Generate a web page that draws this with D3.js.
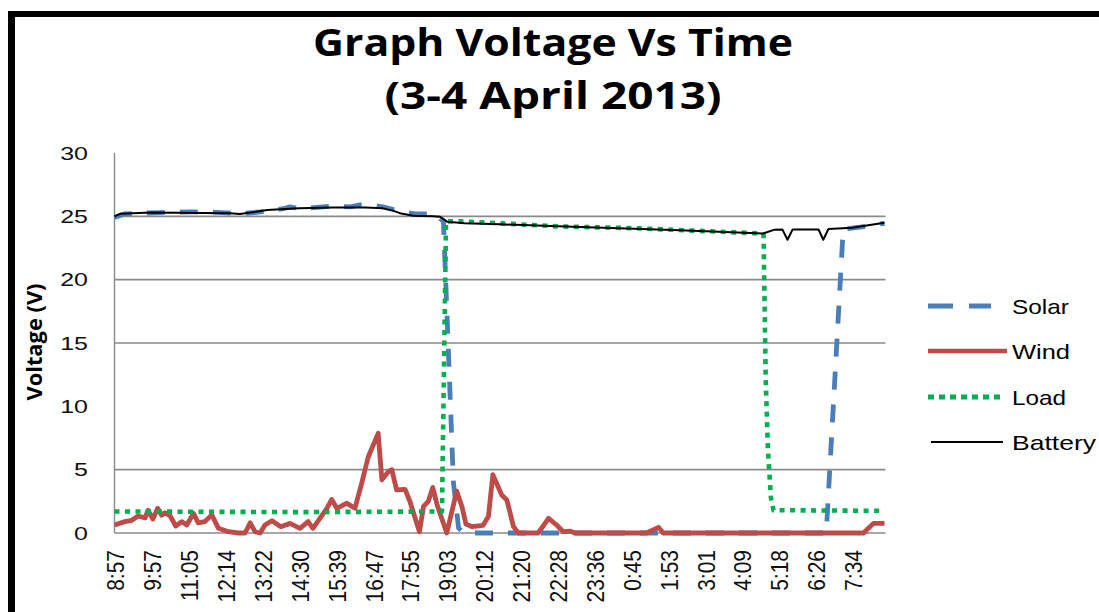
<!DOCTYPE html>
<html><head><meta charset="utf-8">
<script src="https://cdn.jsdelivr.net/npm/d3@7"></script>
<style>body{margin:0;background:#fff} svg{display:block}</style>
</head><body><svg id="c" width="1099" height="612"></svg>
<script>
// ---- data (x in label-interval units: 0 = 8:57, 1 = 9:57, ...) ----
const timeLabels = ["8:57","9:57","11:05","12:14","13:22","14:30","15:39","16:47","17:55","19:03","20:12","21:20","22:28","23:36","0:45","1:53","3:01","4:09","5:18","6:26","7:34"];
const yTicks = [0,5,10,15,20,25,30];
const gridValues = [5,15,20,25];
const seriesNames = ["Solar","Wind","Load","Battery"];

const solarT = [0,0.28,1.23,2.05,2.59,3.40,3.95,4.57,4.76,5.03,5.84,6.39,6.66,7.06,7.28,7.74,8.15,8.69,8.92,9.19,9.33,9.47,19.30,19.76,20.22,20.88];
const solarV = [24.9,25.2,25.3,25.35,25.35,25.2,25.35,25.6,25.75,25.6,25.8,25.75,25.9,25.85,25.75,25.4,25.2,25.2,24.6,4.0,0.4,0,0,24.0,24.15,24.45];

const windT = [0,0.28,0.47,0.64,0.83,0.91,1.04,1.17,1.28,1.37,1.51,1.66,1.82,1.96,2.14,2.27,2.45,2.64,2.82,3.09,3.36,3.54,3.68,3.81,3.95,4.08,4.27,4.51,4.76,5.03,5.25,5.38,5.57,5.76,5.89,6.03,6.30,6.52,6.70,6.88,7.15,7.25,7.43,7.52,7.65,7.88,8.01,8.15,8.27,8.38,8.51,8.63,8.75,9.01,9.28,9.42,9.53,9.70,9.99,10.14,10.26,10.50,10.64,10.82,10.95,11.49,11.77,11.99,12.17,12.35,12.49,14.43,14.75,14.88,20.31,20.58,20.88];
const windV = [0.63,0.9,1.0,1.34,1.2,1.8,1.1,1.95,1.4,1.6,1.34,0.55,0.9,0.63,1.55,0.8,0.9,1.42,0.37,0.1,0,0,0.8,0.1,0,0.63,0.97,0.5,0.76,0.37,0.9,0.37,1.16,1.95,2.65,1.95,2.35,1.95,3.9,6.0,7.87,4.2,4.85,5.0,3.4,3.45,2.5,1.2,0.1,2.1,2.5,3.6,2.2,0,3.3,2.1,0.7,0.5,0.6,1.3,4.6,3.0,2.6,0.5,0,0,1.16,0.63,0.1,0.15,0,0,0.45,0,0,0.76,0.76];

const loadT = [0,5.0,8.88,8.99,9.37,10.45,12.08,14.25,15.88,17.51,17.60,17.66,17.72,17.80,17.87,20.88];
const loadV = [1.7,1.65,1.7,24.6,24.6,24.45,24.2,24.05,23.85,23.65,23.6,12,6.5,2.8,1.8,1.75];

const batteryT = [0,0.15,1.0,3.13,3.4,4.14,5.0,5.93,6.8,7.28,7.55,7.74,8.1,8.64,8.83,9.02,9.5,10.45,12.63,15.34,17.59,17.9,18.11,18.25,18.39,19.09,19.22,19.36,20.0,20.88];
const batteryV = [25.0,25.2,25.3,25.25,25.18,25.5,25.63,25.7,25.7,25.63,25.45,25.25,25.05,25.0,24.97,24.58,24.45,24.37,24.15,23.9,23.65,23.95,23.97,23.15,23.97,23.97,23.15,24.0,24.1,24.5];

// ---- drawing ----
const W = 1099, H = 612;
const svg = d3.select('#c');
const plot = {left:114.5, right:884.5, top:153, bottom:533};
const allT = [...solarT, ...windT, ...loadT, ...batteryT];
const x = d3.scaleLinear().domain([0, d3.max(allT)]).range([plot.left, plot.right]);
const y = d3.scaleLinear().domain([0, 30]).range([plot.bottom, plot.top]);

// frame
svg.append('rect').attr('x',8).attr('y',11).attr('width',7).attr('height',H-11).attr('fill','#000');
svg.append('rect').attr('x',8).attr('y',11).attr('width',W-8).attr('height',6).attr('fill','#000');

// title
const titleLines = ["Graph Voltage Vs Time","(3-4 April 2013)"];
const titleBase = [56,109], titleLen = [480,337];
svg.selectAll('text.title').data(titleLines).join('text').attr('class','title')
  .attr('x',553).attr('y',(d,i)=>titleBase[i]).attr('text-anchor','middle')
  .attr('font-family','"Open Sans", sans-serif').attr('font-weight',700).attr('font-size',38)
  .attr('textLength',(d,i)=>titleLen[i]).attr('lengthAdjust','spacingAndGlyphs')
  .attr('fill','#000').text(d=>d);

// gridlines
svg.selectAll('line.grid').data(gridValues).join('line').attr('class','grid')
  .attr('x1',plot.left).attr('x2',plot.right+1).attr('y1',d=>y(d)).attr('y2',d=>y(d))
  .attr('stroke','#8a8a8a').attr('stroke-width',1.7);
// axes lines
svg.append('line').attr('x1',plot.left).attr('x2',plot.left).attr('y1',y(30)).attr('y2',y(0))
  .attr('stroke','#8a8a8a').attr('stroke-width',1.4);
svg.append('line').attr('x1',plot.left).attr('x2',plot.right+1).attr('y1',y(0)).attr('y2',y(0))
  .attr('stroke','#8a8a8a').attr('stroke-width',1.7);

// y tick labels
svg.selectAll('text.ytick').data(yTicks).join('text').attr('class','ytick')
  .attr('transform',d=>`translate(88,${y(d)}) scale(1.35,1)`)
  .attr('text-anchor','end').attr('dy','0.36em')
  .attr('font-family','"Liberation Sans", Arial, sans-serif').attr('font-size',18.5)
  .attr('fill','#111').text(d=>d);

// x tick labels
svg.selectAll('text.xtick').data(timeLabels).join('text').attr('class','xtick')
  .attr('transform',(d,i)=>`translate(${x(i)+1.5},550) scale(1.12,1) rotate(-90)`)
  .attr('text-anchor','end').attr('dy','0.36em')
  .attr('font-family','"Liberation Sans", Arial, sans-serif').attr('font-size',21)
  .attr('fill','#111').text(d=>d);

// y axis title
svg.append('text').attr('transform','translate(42,342) rotate(-90)')
  .attr('text-anchor','middle').attr('font-family','"Open Sans", sans-serif')
  .attr('font-weight',700).attr('font-size',22).attr('textLength',117)
  .attr('lengthAdjust','spacingAndGlyphs').attr('fill','#000').text('Voltage (V)');

// series
const series = [
  {name:seriesNames[0], t:solarT, v:solarV, color:'#4a7ebb', width:4.8, dash:'18,15', ldash:'25,16', lx1:928, lx2:991},
  {name:seriesNames[1], t:windT, v:windV, color:'#be4b48', width:4.8, dash:null, ldash:null, lx1:928, lx2:1007},
  {name:seriesNames[2], t:loadT, v:loadV, color:'#00b050', width:4.6, dash:'5,5.5', ldash:'6,5', lx1:928, lx2:1005},
  {name:seriesNames[3], t:batteryT, v:batteryV, color:'#000000', width:2, dash:null, ldash:null, lx1:931, lx2:1003}
];
const line = d3.line().x(d=>x(d[0])).y(d=>y(d[1]));
series.forEach(s=>{
  const pts = s.t.map((t,i)=>[t, s.v[i]]);
  svg.append('path').attr('d',line(pts)).attr('fill','none')
    .attr('stroke',s.color).attr('stroke-width',s.width)
    .attr('stroke-linejoin','round')
    .attr('stroke-dasharray',s.dash);
});

// legend
const legendY = [306,351,397,442];
const legendLen = [57,58,54,84];
series.forEach((s,i)=>{
  svg.append('line').attr('x1',s.lx1).attr('x2',s.lx2).attr('y1',legendY[i]).attr('y2',legendY[i])
    .attr('stroke',s.color).attr('stroke-width',i===3?2:(i===1?4.5:5)).attr('stroke-dasharray',s.ldash);
  svg.append('text').attr('x',1012).attr('y',legendY[i]+7.5)
    .attr('font-family','"Liberation Sans", Arial, sans-serif').attr('font-size',21)
    .attr('textLength',legendLen[i]).attr('lengthAdjust','spacingAndGlyphs')
    .attr('fill','#000').text(s.name);
});
</script>
</body></html>
